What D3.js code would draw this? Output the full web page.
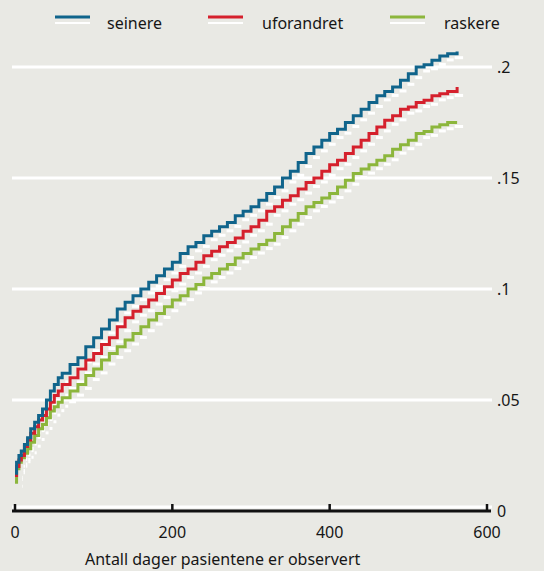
<!DOCTYPE html>
<html>
<head>
<meta charset="utf-8">
<script src="https://cdn.jsdelivr.net/npm/d3@7"></script>
<style>
  body { margin: 0; background: #e9e9e4; }
  svg { display: block; font-family: "Noto Sans", "Open Sans", sans-serif; }
</style>
</head>
<body>
<svg id="chart" width="544" height="571"></svg>
<script>
// days since start (shared by all three curves)
const days = [0, 2, 5, 8, 12, 16, 20, 25, 30, 35, 40, 45, 50, 55, 60, 70, 80, 90, 100,
  110, 120, 130, 140, 150, 160, 170, 180, 190, 200, 210, 220, 230, 240, 250, 260, 270,
  280, 290, 300, 310, 320, 330, 340, 350, 360, 370, 380, 390, 400, 410, 420, 430, 440,
  450, 460, 470, 480, 490, 500, 510, 520, 530, 540, 550, 562];

const seinere = [.017, .022, .025, .027, .030, .033, .037, .040, .043, .046, .050, .054,
  .057, .060, .062, .066, .069, .074, .078, .082, .086, .091, .094, .097, .100, .103,
  .106, .109, .112, .116, .119, .121, .124, .126, .128, .130, .133, .135, .137, .140,
  .143, .146, .150, .153, .157, .161, .164, .167, .170, .172, .175, .178, .181, .184,
  .187, .189, .191, .194, .197, .200, .201, .203, .205, .206, .207];

const uforandret = [.016, .020, .023, .025, .029, .032, .035, .038, .041, .043, .046,
  .049, .052, .054, .057, .060, .064, .068, .071, .075, .078, .083, .087, .090, .092,
  .095, .098, .101, .104, .107, .109, .112, .115, .117, .119, .121, .123, .126, .128,
  .131, .135, .137, .140, .142, .145, .148, .150, .153, .156, .158, .161, .164, .167,
  .170, .173, .176, .178, .181, .182, .184, .185, .187, .188, .189, .191];

const raskere = [.013, .019, .022, .024, .026, .028, .031, .034, .037, .039, .042, .045,
  .047, .049, .051, .054, .057, .061, .064, .068, .071, .074, .077, .080, .083, .086,
  .089, .092, .095, .097, .100, .102, .105, .107, .109, .111, .114, .116, .118, .120,
  .122, .125, .128, .131, .134, .137, .139, .141, .143, .146, .149, .152, .154, .156,
  .158, .160, .163, .165, .167, .170, .171, .173, .174, .175, .175];

const seriesNames = ["seinere", "uforandret", "raskere"];
const seriesValues = [seinere, uforandret, raskere];
const seriesColors = ["#10648b", "#d5202c", "#8cb63c"];

const xTicks = [0, 200, 400, 600];
const yTicks = [0, .05, .1, .15, .2];
const yTickLabels = ["0", ".05", ".1", ".15", ".2"];
const xTitle = "Antall dager pasientene er observert";

const svg = d3.select("#chart");

const x = d3.scaleLinear().domain([0, 600]).range([15, 487]);
const y = d3.scaleLinear().domain([0, .2]).range([511, 67]);

// gridlines
svg.append("g")
  .selectAll("line")
  .data(yTicks)
  .enter().append("line")
  .attr("x1", 12)
  .attr("x2", 492)
  .attr("y1", d => d === 0 ? y(d) - 4 : y(d))
  .attr("y2", d => d === 0 ? y(d) - 4 : y(d))
  .attr("stroke", "#ffffff")
  .attr("stroke-width", 3);

// y labels on the right
svg.append("g")
  .selectAll("text")
  .data(yTicks)
  .enter().append("text")
  .attr("x", 497)
  .attr("y", d => y(d))
  .attr("dy", "0.35em")
  .attr("font-size", 16)
  .attr("fill", "#161616")
  .text((d, i) => yTickLabels[i]);

// x axis
const axis = svg.append("g");
axis.append("line")
  .attr("x1", 12).attr("x2", 491)
  .attr("y1", y(0)).attr("y2", y(0))
  .attr("stroke", "#111").attr("stroke-width", 3);

axis.selectAll(".tick")
  .data(xTicks)
  .enter().append("line")
  .attr("class", "tick")
  .attr("x1", d => x(d)).attr("x2", d => x(d))
  .attr("y1", y(0) - 7).attr("y2", y(0) + 1)
  .attr("stroke", "#111").attr("stroke-width", 2.5);

axis.selectAll(".lbl")
  .data(xTicks)
  .enter().append("text")
  .attr("class", "lbl")
  .attr("x", d => x(d))
  .attr("y", 538)
  .attr("text-anchor", "middle")
  .attr("font-size", 16)
  .attr("fill", "#161616")
  .text(d => d);

svg.append("text")
  .attr("x", 85)
  .attr("y", 565)
  .attr("font-size", 16)
  .attr("fill", "#161616")
  .text(xTitle);

// white shadow steps (horizontal pieces only), drawn behind
const shadow = svg.append("g").attr("transform", "translate(7,4)");
seriesValues.forEach(vals => {
  const segs = days.slice(0, -1).map((d, i) => ({ x0: d, x1: days[i + 1], v: vals[i] }));
  shadow.append("g")
    .selectAll("line")
    .data(segs)
    .enter().append("line")
    .attr("x1", s => x(s.x0))
    .attr("x2", s => x(s.x1) - 1)
    .attr("y1", s => y(s.v))
    .attr("y2", s => y(s.v))
    .attr("stroke", "#ffffff")
    .attr("stroke-width", 3);
});

// step curves
const line = d3.line()
  .x((d, i) => x(days[i]))
  .y(d => y(d))
  .curve(d3.curveStepAfter);

svg.append("g")
  .selectAll("path")
  .data(seriesValues.slice().reverse())
  .enter().append("path")
  .attr("d", line)
  .attr("fill", "none")
  .attr("stroke", (d, i) => seriesColors.slice().reverse()[i])
  .attr("stroke-width", 3);

// legend
const legendX = [55, 208, 390];
const legend = svg.append("g")
  .selectAll("g")
  .data(seriesNames)
  .enter().append("g")
  .attr("transform", (d, i) => "translate(" + legendX[i] + ",0)");

legend.append("line")
  .attr("x1", 0).attr("x2", 35)
  .attr("y1", 23).attr("y2", 23)
  .attr("stroke", "#ffffff").attr("stroke-width", 2);

legend.append("line")
  .attr("x1", 0).attr("x2", 35)
  .attr("y1", 17).attr("y2", 17)
  .attr("stroke", (d, i) => seriesColors[i]).attr("stroke-width", 3);

legend.append("text")
  .attr("x", (d, i) => [52, 54, 54][i])
  .attr("y", 29)
  .attr("font-size", 16)
  .attr("fill", "#161616")
  .text(d => d);
</script>
</body>
</html>
